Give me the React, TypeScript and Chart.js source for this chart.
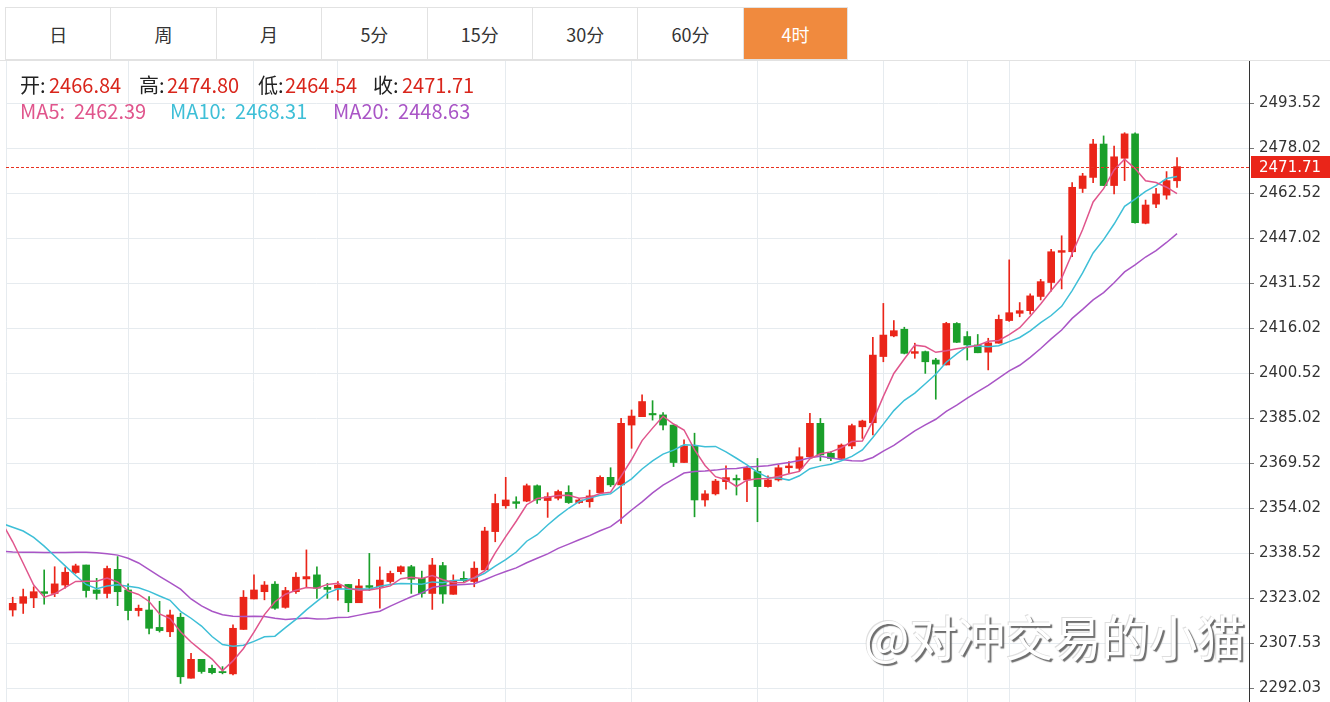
import React, { useEffect, useRef } from "react";
import { Chart, registerables } from "chart.js";

Chart.register(...registerables);

// ---------- data ----------
const tabLabels = ["日", "周", "月", "5分", "15分", "30分", "60分", "4时"];
const activeTab = 7;

const opens = [2319.0, 2321.3, 2323.2, 2325.3, 2324.7, 2327.6, 2331.9, 2334.5, 2325.9, 2324.7,
  2333.0, 2325.9, 2318.8, 2319.0, 2313.0, 2311.5, 2316.5, 2295.5, 2302.0, 2298.9,
  2297.8, 2297.0, 2312.3, 2322.8, 2325.3, 2327.9, 2319.9, 2325.3, 2329.7, 2331.1,
  2326.8, 2326.5, 2327.8, 2321.5, 2327.4, 2327.0, 2328.8, 2332.2, 2333.9, 2329.9,
  2324.7, 2334.3, 2324.4, 2329.9, 2328.8, 2332.8, 2346.0, 2354.9, 2356.3, 2356.5,
  2361.8, 2356.7, 2357.5, 2359.5, 2356.0, 2356.3, 2359.4, 2364.7, 2362.1, 2382.7,
  2385.6, 2386.7, 2386.2, 2382.7, 2369.8, 2375.5, 2356.9, 2359.0, 2363.2, 2364.3,
  2363.8, 2366.7, 2361.5, 2363.8, 2368.0, 2367.8, 2371.8, 2383.3, 2373.0, 2371.2,
  2375.5, 2382.1, 2383.5, 2406.3, 2413.4, 2415.7, 2407.4, 2408.0, 2405.1, 2403.4,
  2417.7, 2413.2, 2410.3, 2407.8, 2410.9, 2418.7, 2421.2, 2422.1, 2427.0, 2431.8,
  2442.2, 2442.4, 2464.2, 2468.0, 2479.5, 2465.2, 2474.6, 2483.0, 2452.2, 2458.8,
  2461.9, 2466.84];

const highs = [2323.4, 2326.2, 2327.0, 2332.8, 2333.9, 2333.6, 2334.8, 2334.5, 2329.9, 2334.1,
  2337.4, 2328.0, 2320.7, 2323.6, 2322.0, 2319.0, 2317.9, 2304.1, 2302.0, 2300.0,
  2299.5, 2313.9, 2325.7, 2331.1, 2328.8, 2328.8, 2326.8, 2331.9, 2339.7, 2333.9,
  2328.2, 2328.8, 2327.8, 2329.6, 2338.5, 2333.9, 2332.4, 2334.2, 2334.4, 2332.4,
  2336.8, 2335.4, 2331.1, 2332.2, 2335.6, 2347.5, 2358.9, 2364.7, 2358.0, 2362.4,
  2362.1, 2359.4, 2360.3, 2361.8, 2357.5, 2360.3, 2365.2, 2368.0, 2385.0, 2387.9,
  2393.1, 2391.1, 2387.0, 2382.7, 2377.6, 2379.9, 2360.1, 2364.0, 2368.7, 2365.5,
  2368.4, 2371.2, 2365.2, 2368.9, 2370.1, 2374.9, 2386.7, 2385.0, 2373.5, 2376.2,
  2383.0, 2384.4, 2412.9, 2424.6, 2418.7, 2416.4, 2410.9, 2408.2, 2405.7, 2418.1,
  2418.0, 2414.9, 2413.9, 2412.6, 2420.6, 2439.6, 2424.9, 2427.9, 2432.9, 2443.2,
  2447.9, 2466.2, 2469.4, 2481.1, 2482.3, 2478.8, 2483.4, 2483.4, 2460.2, 2464.2,
  2470.0, 2474.80];

const lows = [2316.9, 2317.8, 2319.8, 2321.0, 2323.6, 2326.5, 2331.6, 2323.4, 2322.7, 2323.2,
  2320.5, 2315.6, 2316.9, 2310.8, 2311.4, 2309.8, 2293.7, 2295.5, 2297.2, 2297.0,
  2297.0, 2296.6, 2312.3, 2322.8, 2322.5, 2319.2, 2319.6, 2324.7, 2327.0, 2323.0,
  2323.0, 2322.4, 2318.4, 2321.5, 2325.7, 2319.6, 2328.2, 2331.4, 2324.7, 2323.4,
  2319.2, 2321.3, 2324.4, 2328.8, 2327.0, 2332.8, 2342.5, 2354.0, 2354.0, 2356.3,
  2355.7, 2350.9, 2356.9, 2355.7, 2355.7, 2354.4, 2359.2, 2361.5, 2348.8, 2374.7,
  2385.6, 2384.4, 2381.0, 2368.4, 2369.8, 2351.1, 2354.8, 2358.6, 2360.6, 2358.6,
  2356.3, 2349.4, 2361.3, 2363.4, 2366.3, 2367.0, 2371.6, 2370.4, 2370.4, 2371.2,
  2374.6, 2378.1, 2379.3, 2404.5, 2413.1, 2407.2, 2405.7, 2400.5, 2391.6, 2403.4,
  2411.1, 2405.1, 2407.6, 2401.7, 2410.9, 2418.4, 2420.0, 2420.9, 2425.8, 2428.8,
  2429.6, 2440.7, 2462.8, 2466.2, 2465.2, 2462.3, 2466.9, 2452.2, 2452.0, 2457.6,
  2460.5, 2464.54];

const closes = [2321.3, 2323.6, 2325.3, 2324.7, 2328.0, 2332.0, 2334.2, 2325.7, 2324.7, 2333.3,
  2325.3, 2318.8, 2319.6, 2312.7, 2311.9, 2317.3, 2296.0, 2302.0, 2297.8, 2297.4,
  2297.4, 2312.7, 2323.4, 2325.9, 2327.6, 2319.6, 2325.7, 2330.3, 2330.5, 2326.5,
  2326.1, 2327.6, 2321.5, 2327.3, 2326.8, 2329.3, 2331.6, 2333.9, 2329.6, 2324.7,
  2334.5, 2324.5, 2329.1, 2329.1, 2333.4, 2346.2, 2355.7, 2356.9, 2355.7, 2361.8,
  2356.9, 2358.0, 2359.8, 2356.0, 2356.9, 2358.3, 2364.7, 2362.1, 2383.3, 2385.8,
  2390.8, 2386.2, 2382.7, 2369.8, 2375.5, 2356.9, 2359.0, 2363.4, 2364.6, 2363.8,
  2367.8, 2361.5, 2363.8, 2368.0, 2368.6, 2371.8, 2383.3, 2372.4, 2371.2, 2375.8,
  2382.5, 2384.1, 2406.8, 2413.7, 2415.2, 2407.4, 2408.0, 2404.5, 2403.7, 2417.7,
  2411.2, 2410.3, 2407.6, 2411.0, 2419.1, 2421.4, 2422.1, 2427.2, 2432.1, 2442.4,
  2442.8, 2464.6, 2468.5, 2479.5, 2465.2, 2475.1, 2483.0, 2452.4, 2458.5, 2462.3,
  2466.9, 2471.71];

// moving-average lines, first value sits one bar before the first candle
const maStartIndex = -1;
const ma5 = [2349.0, 2342.5, 2335.1, 2327.6, 2323.4, 2324.58, 2326.72, 2328.84, 2328.92, 2328.92,
  2329.98, 2328.64, 2325.56, 2324.34, 2321.94, 2317.66, 2316.06, 2311.5, 2307.98, 2305.0,
  2302.1, 2298.12, 2301.46, 2305.74, 2311.36, 2317.4, 2321.84, 2324.44, 2325.82, 2326.74,
  2326.52, 2327.82, 2328.2, 2326.44, 2325.8, 2325.86, 2326.5, 2327.3, 2329.78, 2330.24,
  2329.82, 2330.86, 2329.44, 2328.48, 2328.38, 2330.12, 2332.46, 2338.7, 2344.26, 2349.58,
  2355.26, 2357.4, 2357.86, 2358.44, 2358.5, 2357.52, 2357.8, 2359.14, 2359.6, 2365.06,
  2370.84, 2377.34, 2381.64, 2385.76, 2383.06, 2381.0, 2374.22, 2368.78, 2364.92, 2363.88,
  2361.54, 2363.72, 2364.22, 2364.3, 2364.98, 2365.94, 2366.74, 2371.1, 2372.82, 2373.46,
  2374.9, 2377.04, 2377.2, 2384.08, 2392.58, 2400.46, 2405.44, 2410.22, 2409.76, 2407.76,
  2408.26, 2409.02, 2409.48, 2410.1, 2411.56, 2411.84, 2413.88, 2416.24, 2420.16, 2424.38,
  2429.04, 2433.32, 2441.82, 2450.08, 2459.56, 2464.12, 2470.58, 2474.26, 2471.04, 2466.84,
  2466.26, 2464.62, 2462.39];

const ma10 = [2348.8, 2347.5, 2346.2, 2344.0, 2341.0, 2337.6, 2334.2, 2330.9, 2327.8, 2326.3,
  2327.28, 2327.68, 2327.2, 2326.63, 2325.43, 2323.82, 2322.35, 2318.53, 2316.16, 2313.47,
  2309.88, 2307.09, 2306.48, 2306.86, 2308.18, 2309.75, 2309.98, 2312.95, 2315.78, 2319.05,
  2321.96, 2324.83, 2326.32, 2326.13, 2326.27, 2326.19, 2327.16, 2327.75, 2328.11, 2328.02,
  2327.84, 2328.68, 2328.37, 2329.13, 2329.31, 2329.97, 2331.66, 2334.07, 2336.37, 2338.98,
  2342.69, 2344.93, 2348.28, 2351.35, 2354.04, 2356.39, 2357.6, 2358.5, 2359.02, 2361.78,
  2364.18, 2367.57, 2370.39, 2372.68, 2374.06, 2375.92, 2375.78, 2375.21, 2375.34, 2373.47,
  2371.27, 2368.97, 2366.5, 2364.61, 2364.43, 2363.74, 2365.23, 2367.66, 2368.56, 2369.22,
  2370.42, 2371.89, 2374.15, 2378.45, 2383.02, 2387.68, 2391.24, 2393.71, 2396.92, 2400.17,
  2404.36, 2407.23, 2409.85, 2409.93, 2409.66, 2410.05, 2411.45, 2412.86, 2415.13, 2417.97,
  2420.44, 2423.6, 2429.03, 2435.12, 2441.97, 2446.58, 2451.95, 2458.04, 2460.56, 2463.2,
  2465.19, 2467.6, 2468.31];

const ma20 = [2339.2, 2339.0, 2338.9, 2338.9, 2338.8, 2338.8, 2338.8, 2338.9, 2338.9, 2338.7,
  2338.4, 2337.9, 2336.8, 2335.2, 2332.9, 2330.6, 2328.4, 2326.2, 2322.8, 2320.4,
  2318.58, 2317.39, 2316.84, 2316.75, 2316.81, 2316.79, 2316.17, 2315.74, 2315.97, 2316.26,
  2315.92, 2315.96, 2316.4, 2316.5, 2317.23, 2317.97, 2318.57, 2320.35, 2321.95, 2323.54,
  2324.9, 2326.76, 2327.35, 2327.63, 2327.79, 2328.08, 2329.41, 2330.91, 2332.24, 2333.5,
  2335.27, 2336.81, 2338.33, 2340.24, 2341.68, 2343.18, 2344.63, 2346.29, 2347.7, 2350.38,
  2353.44, 2356.25, 2359.34, 2362.02, 2364.05, 2366.16, 2366.69, 2366.86, 2367.18, 2367.63,
  2367.73, 2368.27, 2368.45, 2368.65, 2369.25, 2369.83, 2370.51, 2371.44, 2371.95, 2371.35,
  2370.85, 2370.43, 2370.33, 2371.53, 2373.73, 2375.71, 2378.24, 2380.69, 2382.74, 2384.7,
  2387.39, 2389.56, 2392.0, 2394.19, 2396.34, 2398.87, 2401.35, 2403.29, 2406.03, 2409.07,
  2412.4, 2415.42, 2419.44, 2422.53, 2425.82, 2428.32, 2431.7, 2435.45, 2437.85, 2440.59,
  2442.82, 2445.6, 2448.63];

const yTickLabels = ["2292.03", "2307.53", "2323.02", "2338.52", "2354.02", "2369.52", "2385.02",
  "2400.52", "2416.02", "2431.52", "2447.02", "2462.52", "2478.02", "2493.52"];

// candle indices where a session (day) divider grid line is drawn
const sessionGridIdx = [11, 23, 31, 47, 59, 71, 83, 91, 95, 107];

const watermark = "@对冲交易的小猫";

// ---------- style ----------
const RED = "#ea2519";
const GREEN = "#1a9f2a";
const C_MA5 = "#e0558c";
const C_MA10 = "#3ebfd7";
const C_MA20 = "#a955c6";
const GRID = "#e6ebef";
const CJK = '"Noto Sans CJK SC", "Microsoft YaHei", sans-serif';

const X_MIN = -0.64;
const X_MAX = 117.86;
const Y_MIN = 2287.31;
const Y_MAX = 2508.1;

const lastIdx = closes.length - 1;

const lastPricePlugin = {
  id: "lastPrice",
  afterDraw(chart: any) {
    const { ctx, chartArea } = chart;
    const y = chart.scales.y.getPixelForValue(closes[lastIdx]);
    const py = Math.round(y) + 0.5;
    ctx.save();
    ctx.strokeStyle = "#e8301f";
    ctx.lineWidth = 1;
    ctx.setLineDash([3, 2]);
    ctx.beginPath();
    ctx.moveTo(chartArea.left, py);
    ctx.lineTo(chartArea.right, py);
    ctx.stroke();
    ctx.setLineDash([]);
    ctx.fillStyle = RED;
    ctx.fillRect(chartArea.right + 2, Math.round(y) - 11, chart.width - chartArea.right - 2, 22);
    ctx.fillStyle = "#ffffff";
    ctx.font = '15px "DejaVu Sans"';
    ctx.textBaseline = "middle";
    ctx.textAlign = "left";
    ctx.fillText(closes[lastIdx].toFixed(2), chartArea.right + 10, Math.round(y) + 1);
    ctx.restore();
  },
};

function CandleChart() {
  const ref = useRef<HTMLCanvasElement | null>(null);
  useEffect(() => {
    if (!ref.current) return;
    const upDown = (i: number) => (closes[i] >= opens[i] ? RED : GREEN);
    const maData = (arr: number[]) => arr.map((v, k) => ({ x: k + maStartIndex, y: v }));
    const chart = new Chart(ref.current, {
      type: "bar",
      data: {
        datasets: [
          { type: "line", data: maData(ma5), borderColor: C_MA5, borderWidth: 1.5, pointRadius: 0, tension: 0, fill: false } as any,
          { type: "line", data: maData(ma10), borderColor: C_MA10, borderWidth: 1.5, pointRadius: 0, tension: 0, fill: false } as any,
          { type: "line", data: maData(ma20), borderColor: C_MA20, borderWidth: 1.5, pointRadius: 0, tension: 0, fill: false } as any,
          {
            type: "bar",
            data: closes.map((c, i) => ({ x: i, y: [opens[i], c] })),
            backgroundColor: (c: any) => upDown(c.dataIndex),
            barThickness: 7,
            grouped: false,
            minBarLength: 1,
            borderWidth: 0,
            borderSkipped: false,
          } as any,
          {
            type: "bar",
            data: closes.map((c, i) => ({ x: i, y: [lows[i], highs[i]] })),
            backgroundColor: (c: any) => upDown(c.dataIndex),
            barThickness: 1,
            grouped: false,
            borderWidth: 0,
            borderSkipped: false,
          } as any,
        ],
      },
      options: {
        responsive: false,
        animation: false,
        events: [],
        layout: { padding: { left: 6, right: 0, top: 0, bottom: 0 } },
        plugins: { legend: { display: false }, tooltip: { enabled: false } },
        scales: {
          x: {
            type: "linear",
            min: X_MIN,
            max: X_MAX,
            offset: false,
            afterBuildTicks: (s: any) => {
              s.ticks = [X_MIN, ...sessionGridIdx].map((v) => ({ value: v }));
            },
            afterFit: (s: any) => {
              s.height = 0;
            },
            ticks: { display: false },
            grid: { color: GRID, drawTicks: false, offset: false },
            border: { display: false },
          },
          y: {
            type: "linear",
            position: "right",
            min: Y_MIN,
            max: Y_MAX,
            afterBuildTicks: (s: any) => {
              s.ticks = yTickLabels.map((t) => ({ value: Number(t) }));
            },
            afterFit: (s: any) => {
              s.width = 81;
              s.paddingTop = 0;
              s.paddingBottom = 0;
            },
            ticks: {
              autoSkip: false,
              padding: 5,
              color: "#333",
              font: { family: "DejaVu Sans", size: 15 },
              callback: (_v: any, i: number) => yTickLabels[i],
            },
            grid: { color: GRID, tickColor: "#777", tickLength: 5 },
            border: { display: true, color: "#333" },
          },
        },
      } as any,
      plugins: [lastPricePlugin],
    });
    return () => chart.destroy();
  }, []);
  return <canvas ref={ref} width={1330} height={641} style={{ display: "block" }} />;
}

export default function App() {
  useEffect(() => {
    document.body.style.margin = "0";
  }, []);

  const ohlcLabels = ["开:", "高:", "低:", "收:"];
  const ohlcValues = [opens[lastIdx], highs[lastIdx], lows[lastIdx], closes[lastIdx]];
  const ohlcLabelX = [20, 139, 258, 373];
  const ohlcValueX = [49, 167, 285, 402];
  const maItems = [
    { name: "MA5", v: ma5[ma5.length - 1], c: C_MA5, x: 20 },
    { name: "MA10", v: ma10[ma10.length - 1], c: C_MA10, x: 170 },
    { name: "MA20", v: ma20[ma20.length - 1], c: C_MA20, x: 333 },
  ];

  return (
    <div style={{ position: "relative", width: 1330, height: 702, background: "#fff", overflow: "hidden", fontFamily: CJK }}>
      {tabLabels.map((t, i) => (
        <div
          key={t}
          style={{
            position: "absolute",
            left: 5 + i * 105.4,
            top: 7,
            width: 105.4,
            height: 53,
            boxSizing: "border-box",
            border: "1px solid #e2e2e2",
            borderRight: i === tabLabels.length - 1 ? "1px solid #e2e2e2" : "none",
            background: i === activeTab ? "#f08a3e" : "#fff",
            color: i === activeTab ? "#fff" : "#333",
            fontSize: 18,
            display: "flex",
            alignItems: "center",
            justifyContent: "center",
          }}
        >
          {t}
        </div>
      ))}
      <div style={{ position: "absolute", left: 0, top: 60, width: 1330, height: 1, background: "#e2e2e2" }} />
      <div style={{ position: "absolute", left: 0, top: 61 }}>
        <CandleChart />
      </div>
      {ohlcLabels.map((l, i) => (
        <React.Fragment key={l}>
          <span style={{ position: "absolute", left: ohlcLabelX[i], top: 73, lineHeight: "24px", fontSize: 20, color: "#222" }}>{l}</span>
          <span style={{ position: "absolute", left: ohlcValueX[i], top: 73, lineHeight: "24px", fontSize: 20, color: "#d9251b" }}>
            {ohlcValues[i].toFixed(2)}
          </span>
        </React.Fragment>
      ))}
      {maItems.map((m) => (
        <span key={m.name} style={{ position: "absolute", left: m.x, top: 99, lineHeight: "24px", fontSize: 20, color: m.c, whiteSpace: "pre" }}>
          {m.name + ":  " + m.v.toFixed(2)}
        </span>
      ))}
      <div style={{ position: "absolute", left: 0, top: 580, width: 1249, height: 110, overflow: "hidden", pointerEvents: "none" }}>
        <div
          style={{
            position: "absolute",
            left: 864,
            top: 26,
            fontSize: 48,
            lineHeight: "58px",
            color: "#ffffff",
            textShadow: "2px 2px 1px rgba(85,85,85,0.85), -1px -1px 0 rgba(200,200,200,0.6)",
            whiteSpace: "nowrap",
            fontFamily: CJK,
          }}
        >
          {watermark}
        </div>
      </div>
    </div>
  );
}
